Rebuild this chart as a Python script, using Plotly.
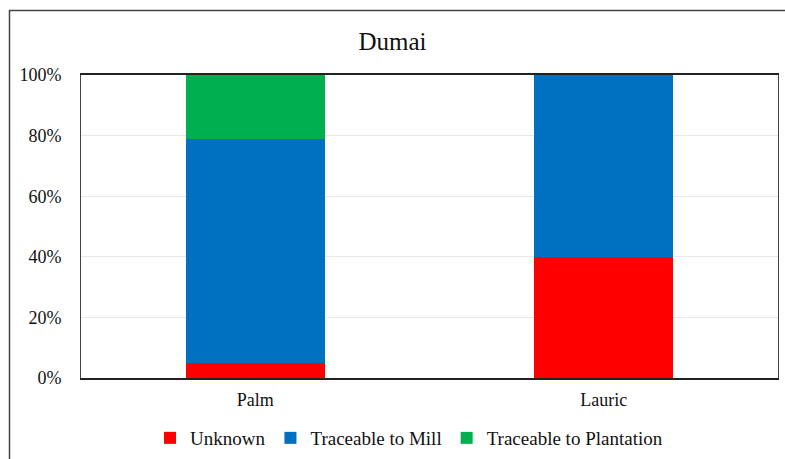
import plotly.graph_objects as go

categories = ["Palm", "Lauric"]
unknown = [5, 40]
traceable_mill = [74, 60]
traceable_plantation = [21, 0]
series_names = ["Unknown", "Traceable to Mill", "Traceable to Plantation"]
colors = ["#FF0000", "#0070C0", "#00B050"]

W, H = 785, 459
L, R, T, B = 81, 7, 75, 81
pw, ph = W - L - R, H - T - B

def px_x(px):
    return (px - L) / pw

def px_y(py):
    return (H - B - py) / ph

fig = go.Figure()
for name, vals, c in zip(series_names, [unknown, traceable_mill, traceable_plantation], colors):
    fig.add_trace(go.Bar(x=categories, y=vals, name=name, marker=dict(color=c, line=dict(width=0))))

font = "Liberation Serif, Times New Roman, serif"
fig.update_layout(
    barmode="stack",
    bargap=0.6,
    width=W, height=H,
    margin=dict(l=L, r=R, t=T, b=B, autoexpand=False),
    paper_bgcolor="white", plot_bgcolor="white",
    font=dict(family=font, size=18, color="#222"),
    title=dict(text="Dumai", x=0.5, xanchor="center", y=1 - 41 / H, yanchor="middle",
               font=dict(family=font, size=25, color="#111")),
    showlegend=True,
    legend=dict(orientation="h", xref="container", yref="container",
                x=409 / W, xanchor="center", y=(H - 438) / H, yanchor="middle",
                font=dict(family=font, size=19, color="#111"), traceorder="normal",
                itemwidth=30),
    xaxis=dict(showline=True, linecolor="#222", linewidth=1.5, mirror=True, ticks="",
               ticklabelstandoff=5, automargin=False,
               tickfont=dict(family=font, size=18, color="#111")),
    yaxis=dict(range=[0, 100], tickvals=[0, 20, 40, 60, 80, 100],
               ticktext=["0%", "20%", "40%", "60%", "80%", "100%"],
               showgrid=True, gridcolor="#E8E8E8", gridwidth=1,
               showline=True, linecolor="#444", linewidth=1, mirror=True, ticks="",
               ticklabelstandoff=15, automargin=False,
               tickfont=dict(family=font, size=18, color="#111"),
               zeroline=False),
)
fig.add_shape(type="rect", xref="paper", yref="paper",
              x0=px_x(9.5), x1=px_x(800), y0=px_y(480), y1=px_y(10.5),
              line=dict(color="#444", width=1.5), fillcolor="rgba(0,0,0,0)", layer="below")
fig.write_html("out.html", config={"displayModeBar": False},
               post_script="document.body.style.margin='0';document.body.style.padding='0';")
